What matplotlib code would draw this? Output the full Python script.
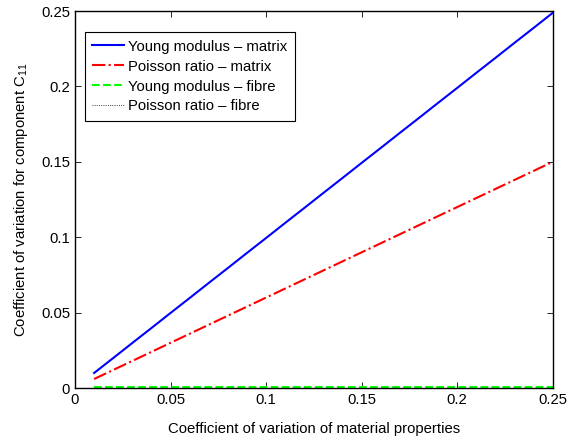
import matplotlib
matplotlib.use('Agg')
import matplotlib.pyplot as plt

plt.rcParams['font.family'] = ['Liberation Sans', 'DejaVu Sans']
plt.rcParams['mathtext.fontset'] = 'custom'
plt.rcParams['mathtext.rm'] = 'Liberation Sans'

# coefficient of variation of the input properties
cov_input = [0.01, 0.02, 0.03, 0.04, 0.05, 0.06, 0.07, 0.08, 0.09, 0.10,
             0.11, 0.12, 0.13, 0.14, 0.15, 0.16, 0.17, 0.18, 0.19, 0.20,
             0.21, 0.22, 0.23, 0.24, 0.25]
young_matrix = [0.0100, 0.0199, 0.0299, 0.0398, 0.0498, 0.0597, 0.0697, 0.0796, 0.0896, 0.0995,
                0.1095, 0.1194, 0.1294, 0.1393, 0.1493, 0.1592, 0.1692, 0.1791, 0.1891, 0.1990,
                0.2090, 0.2189, 0.2289, 0.2388, 0.2488]
poisson_matrix = [0.006, 0.012, 0.018, 0.024, 0.030, 0.036, 0.042, 0.048, 0.054, 0.060,
                  0.066, 0.072, 0.078, 0.084, 0.090, 0.096, 0.102, 0.108, 0.114, 0.120,
                  0.126, 0.132, 0.138, 0.144, 0.150]
young_fibre = [0.0005] * 25
poisson_fibre = [0.0001] * 25

fig = plt.figure(figsize=(5.79, 4.43), dpi=100)
ax = fig.add_axes([0.1295, 0.124, 0.825, 0.851])

ax.plot(cov_input, young_matrix, color='#0000ff', lw=1.5, ls='-', label='Young modulus \u2013 matrix')
ax.plot(cov_input, poisson_matrix, color='#ff0000', lw=1.5, ls='-.', label='Poisson ratio \u2013 matrix')
ax.plot(cov_input, young_fibre, color='#00ff00', lw=1.5, ls='--', label='Young modulus \u2013 fibre')
ax.plot(cov_input, poisson_fibre, color='black', lw=0.6, ls=':', label='Poisson ratio \u2013 fibre')

ax.set_xlim(0, 0.25)
ax.set_ylim(0, 0.25)
ax.set_xticks([0, 0.05, 0.1, 0.15, 0.2, 0.25])
ax.set_xticklabels(['0', '0.05', '0.1', '0.15', '0.2', '0.25'])
ax.set_yticks([0, 0.05, 0.1, 0.15, 0.2, 0.25])
ax.set_yticklabels(['0', '0.05', '0.1', '0.15', '0.2', '0.25'])
ax.tick_params(direction='in', top=True, right=True, labelsize=10.7, length=4, width=0.6)
for s in ax.spines.values():
    s.set_linewidth(1.0)

ax.set_xlabel('Coefficient of variation of material properties', fontsize=10.7, labelpad=11)
ax.set_ylabel('Coefficient of variation for component C$_{11}$', fontsize=10.7, labelpad=8)

leg = ax.legend(loc='upper left', bbox_to_anchor=(0.021, 0.944), borderaxespad=0,
                fontsize=10.7, fancybox=False, framealpha=1, edgecolor='black',
                handlelength=2.15, handletextpad=0.25, labelspacing=0.4, borderpad=0.5)
leg.get_frame().set_linewidth(0.8)

fig.savefig('out.png', dpi=100)
